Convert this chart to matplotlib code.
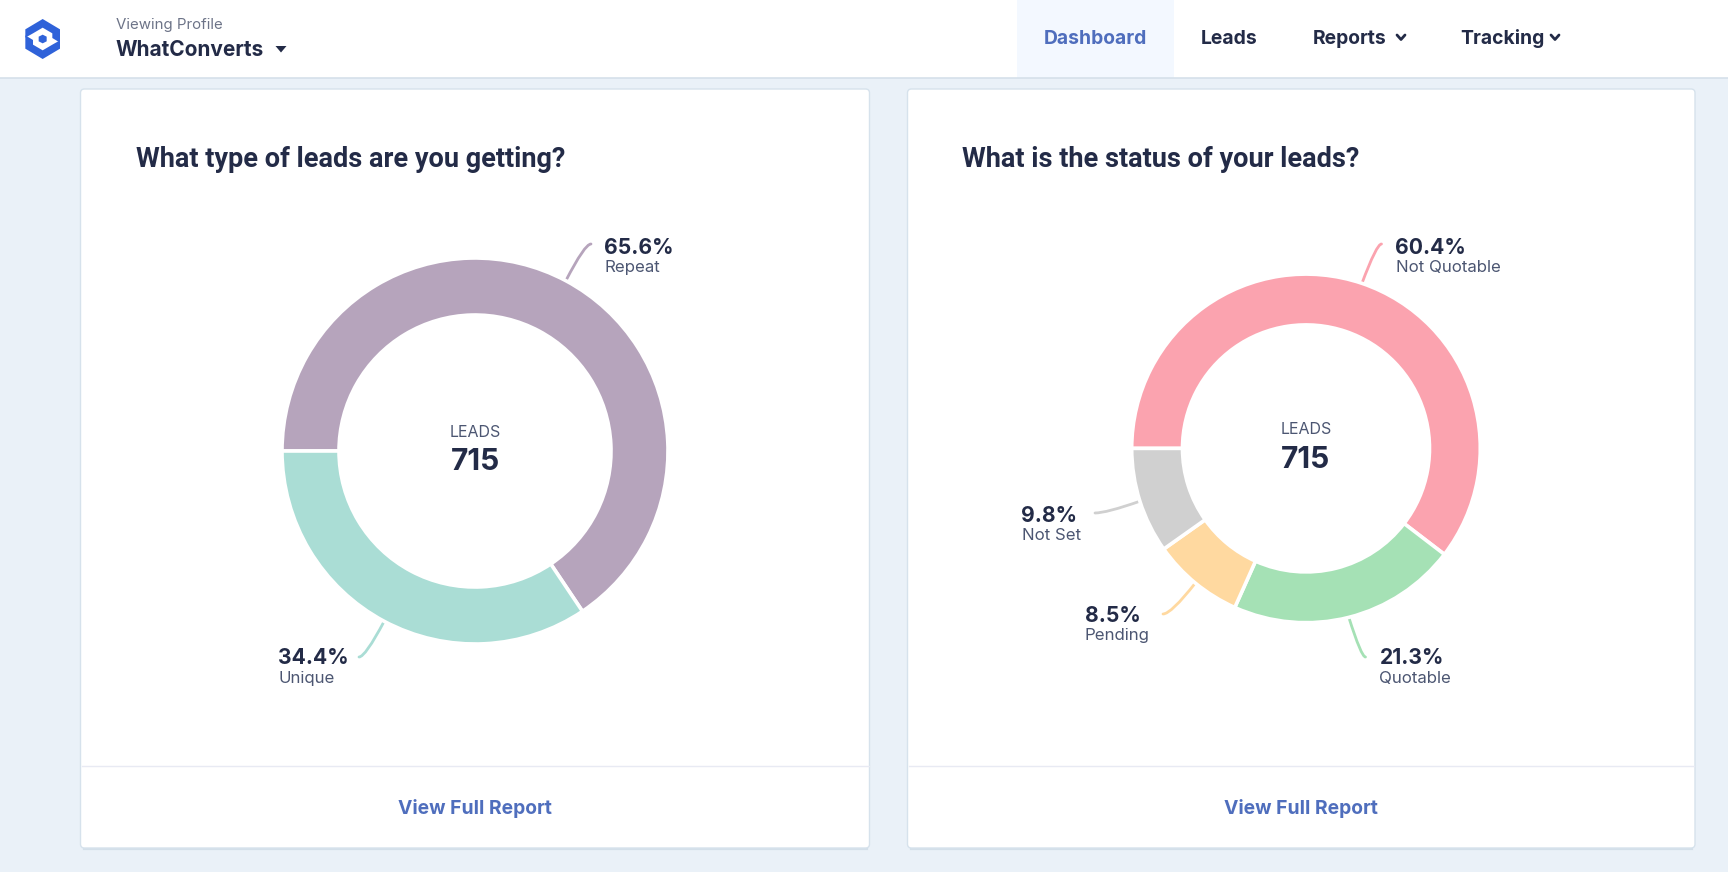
"""WhatConverts dashboard: lead type and lead status donuts."""
import math

import matplotlib
matplotlib.use("Agg")
import matplotlib.pyplot as plt
from matplotlib.patches import FancyBboxPatch, PathPatch, Polygon, Rectangle
from matplotlib.path import Path

W, H = 1728, 872
plt.rcParams["font.family"] = ["Inter", "DejaVu Sans"]

type_names = ["Repeat", "Unique"]
type_values = [65.6, 34.4]
type_colors = ["#B6A4BC", "#AADDD5"]

status_names = ["Not Quotable", "Quotable", "Pending", "Not Set"]
status_values = [60.4, 21.3, 8.5, 9.8]
status_colors = ["#FBA3AF", "#A5E1B5", "#FFD9A0", "#D0D0D0"]

total_leads = "715"
nav_items = ["Leads", "Reports", "Tracking"]

DARK = "#232B47"
SOFT = "#4C5672"
BLUE = "#4F6EBD"
BG = "#EAF1F8"


def Y(y):
    return H - y


def put(ax, x, y, s, size, color=DARK, weight="normal", ha="left", family=None):
    ax.text(x, Y(y), s, fontsize=size, color=color, fontweight=weight, ha=ha, va="baseline",
            family=family or ["Inter", "DejaVu Sans"])


def card(ax, x0, x1, title, title_x):
    ax.plot([x0 + 3, x1 - 3], [Y(848.5), Y(848.5)], color="#D3DFE9", lw=1.6, zorder=0.5)
    ax.add_patch(FancyBboxPatch((x0, Y(848)), x1 - x0, 848 - 89,
                                boxstyle="round,pad=0,rounding_size=4",
                                fc="white", ec="#D6E2EC", lw=1.0, zorder=1))
    ax.plot([x0 + 1, x1 - 1], [Y(766), Y(766)], color="#E8EAF3", lw=1.0, zorder=2)
    put(ax, title_x, 167, title, 19.5, weight="bold", family=["Roboto", "DejaVu Sans"])
    put(ax, (x0 + x1) / 2, 814, "View Full Report", 13.9, BLUE, "bold", ha="center")


def donut(ax, cx, cy, outer, inner, values, colors, names, anchors, leads_y, num_y):
    ax.pie(values, colors=colors, center=(cx, Y(cy)), radius=outer, startangle=180,
           counterclock=False, normalize=True,
           wedgeprops=dict(width=outer - inner, edgecolor="white", linewidth=2.6, zorder=3))
    start = 180.0
    total = sum(values)
    for val, col, name, (ex, ey, tx, ty, sy) in zip(values, colors, names, anchors):
        sweep = 360.0 * val / total
        mid = math.radians(start - sweep / 2)
        start -= sweep
        # leader leaves the ring at the slice midpoint and flattens out at the label
        sx0, sy0 = cx + outer * math.cos(mid), Y(cy) + outer * math.sin(mid)
        ctrl = (ex - 0.25 * (ex - sx0), Y(ey))
        leader = Path([(sx0, sy0), ctrl, (ex, Y(ey))], [Path.MOVETO, Path.CURVE3, Path.CURVE3])
        ax.add_patch(PathPatch(leader, fc="none", ec=col, lw=2.0, capstyle="round", zorder=2))
        put(ax, tx, ty, f"{val:.1f}%", 15.2, weight="bold")
        put(ax, tx, sy, name, 12.1, SOFT)
    put(ax, cx, leads_y, "LEADS", 11.5, SOFT, ha="center")
    put(ax, cx, num_y, total_leads, 21.5, weight="bold", ha="center")


fig = plt.figure(figsize=(W / 100, H / 100), dpi=100, facecolor=BG)
ax = fig.add_axes([0, 0, 1, 1])

# header bar
ax.add_patch(Rectangle((0, Y(78)), W, 78, fc="white", ec="none", zorder=1))
ax.plot([0, W], [Y(78.5), Y(78.5)], color="#D5E0EA", lw=1.2, zorder=2)
ax.add_patch(Rectangle((1017, Y(78)), 157, 78, fc="#F3F8FF", ec="none", zorder=1))

# logo, two interlocking halves around a small hexagon
upper = [(31, 58), (83, 27), (135, 58), (135, 98), (112, 84), (112, 70), (83, 53), (54, 70), (31, 83)]
lower = [(166 - a, 174 - b) for a, b in upper]
core = [(83, 74), (95, 80), (95, 94), (83, 100), (71, 94), (71, 80)]
for shape in (upper, lower, core):
    ax.add_patch(Polygon([(15 + a / 3, Y(10 + b / 3)) for a, b in shape], fc="#2F62D9", ec="none", zorder=3))

put(ax, 116, 29.5, "Viewing Profile", 10.8, "#6D7488")
put(ax, 116, 56, "WhatConverts", 15, weight="bold")
ax.add_patch(Polygon([(275.5, Y(46)), (286.5, Y(46)), (281, Y(52.5))], fc=DARK, ec="none", zorder=3))

put(ax, 1044, 44, "Dashboard", 13.9, BLUE, "bold")
for label, lx in zip(nav_items, [1201, 1312.5, 1460]):
    put(ax, lx, 44, label, 13.9, weight="bold")
for chev_x in (1401, 1555):
    ax.plot([chev_x - 4, chev_x, chev_x + 4], [Y(35), Y(39.5), Y(35)], color=DARK, lw=2.0,
            solid_capstyle="round", solid_joinstyle="round", zorder=3)

card(ax, 80.5, 869.5, "What type of leads are you getting?", 135.5)
card(ax, 907.5, 1695, "What is the status of your leads?", 962.5)

# (leader end x, y, text x, value baseline, name baseline)
donut(ax, 475, 451, 193, 136, type_values, type_colors, type_names,
      [(591, 244, 604, 254, 272), (359, 657, 278, 664, 683)], 437, 469.5)
donut(ax, 1306, 448.4, 174.3, 123.5, status_values, status_colors, status_names,
      [(1381.5, 244, 1395.5, 254, 272), (1365.5, 657, 1379.5, 664, 683),
       (1163, 614, 1084.5, 622, 640), (1095, 513, 1021.5, 522, 540)], 434.5, 467.5)

ax.set_xlim(0, W)
ax.set_ylim(0, H)
ax.set_aspect("auto")
ax.axis("off")
fig.savefig("out.png", dpi=100, facecolor=BG)
